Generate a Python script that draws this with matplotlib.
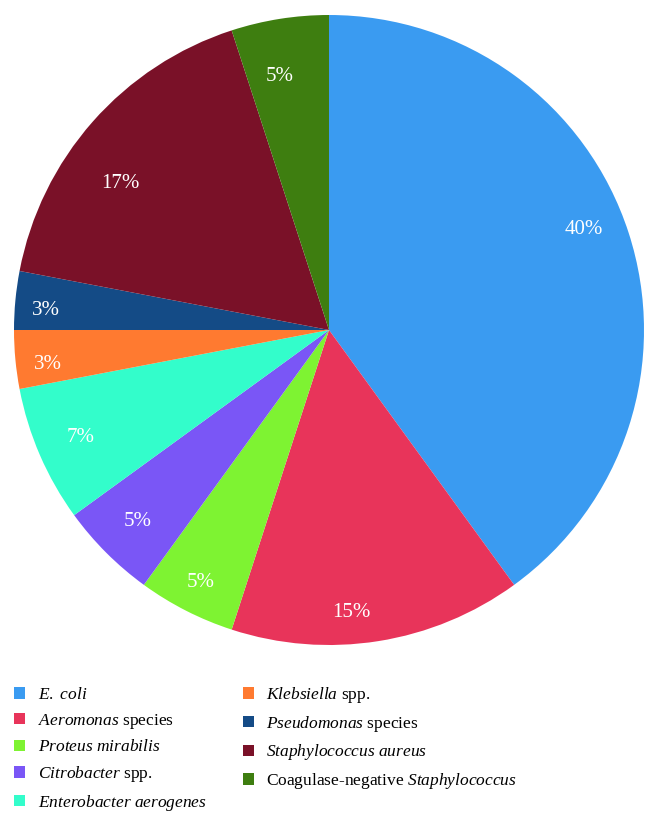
import matplotlib
matplotlib.use("Agg")
import matplotlib.pyplot as plt
import numpy as np
from matplotlib.patches import Patch

plt.rcParams["font.family"] = "Liberation Serif"
plt.rcParams["mathtext.fontset"] = "custom"
plt.rcParams["mathtext.rm"] = "Liberation Serif"
plt.rcParams["mathtext.it"] = "Liberation Serif:italic"

labels = [
    r"$\mathit{E.\ coli}$",
    r"$\mathit{Aeromonas}$ species",
    r"$\mathit{Proteus\ mirabilis}$",
    r"$\mathit{Citrobacter}$ spp.",
    r"$\mathit{Enterobacter\ aerogenes}$",
    r"$\mathit{Klebsiella}$ spp.",
    r"$\mathit{Pseudomonas}$ species",
    r"$\mathit{Staphylococcus\ aureus}$",
    r"Coagulase-negative $\mathit{Staphylococcus}$",
]
values = [40, 15, 5, 5, 7, 3, 3, 17, 5]
colors = ["#3A9BF1", "#E8345A", "#7EF332", "#7A56F6", "#33FDCB",
          "#FF7A30", "#144B86", "#7A1128", "#3E7E10"]
# % label placement: fraction of radius, angle nudge in degrees
label_r = [0.87, 0.9, 0.9, 0.86, 0.86, 0.9, 0.9, 0.81, 0.82]
label_dang = [3.5, -4.4, 0, 0, 0, 1.5, 1.5, 6.4, 2]

fig = plt.figure(figsize=(6.57, 8.30), dpi=100)
ax = fig.add_axes([14 / 657, (830 - 645) / 830, 630 / 657, 630 / 830])
wedges, texts, autotexts = ax.pie(
    values, colors=colors, startangle=90, counterclock=False,
    autopct="%d%%", pctdistance=0.82,
    textprops={"color": "white", "fontsize": 15},
)
for w, t, r, da in zip(wedges, autotexts, label_r, label_dang):
    a = np.deg2rad((w.theta1 + w.theta2) / 2 + da)
    t.set_position((r * np.cos(a), r * np.sin(a)))
ax.set_xlim(-1, 1)
ax.set_ylim(-1, 1)
ax.set_aspect("equal")

handles = [Patch(facecolor=c, edgecolor="none") for c in colors]
fig.legend(handles, labels, ncol=2, loc="upper left",
           bbox_to_anchor=(0.011, 0.183), frameon=False, fontsize=12.5,
           handlelength=0.65, handleheight=0.65, handletextpad=0.7,
           columnspacing=2.1, labelspacing=0.5, borderaxespad=0)

fig.savefig("out.png", dpi=100)
